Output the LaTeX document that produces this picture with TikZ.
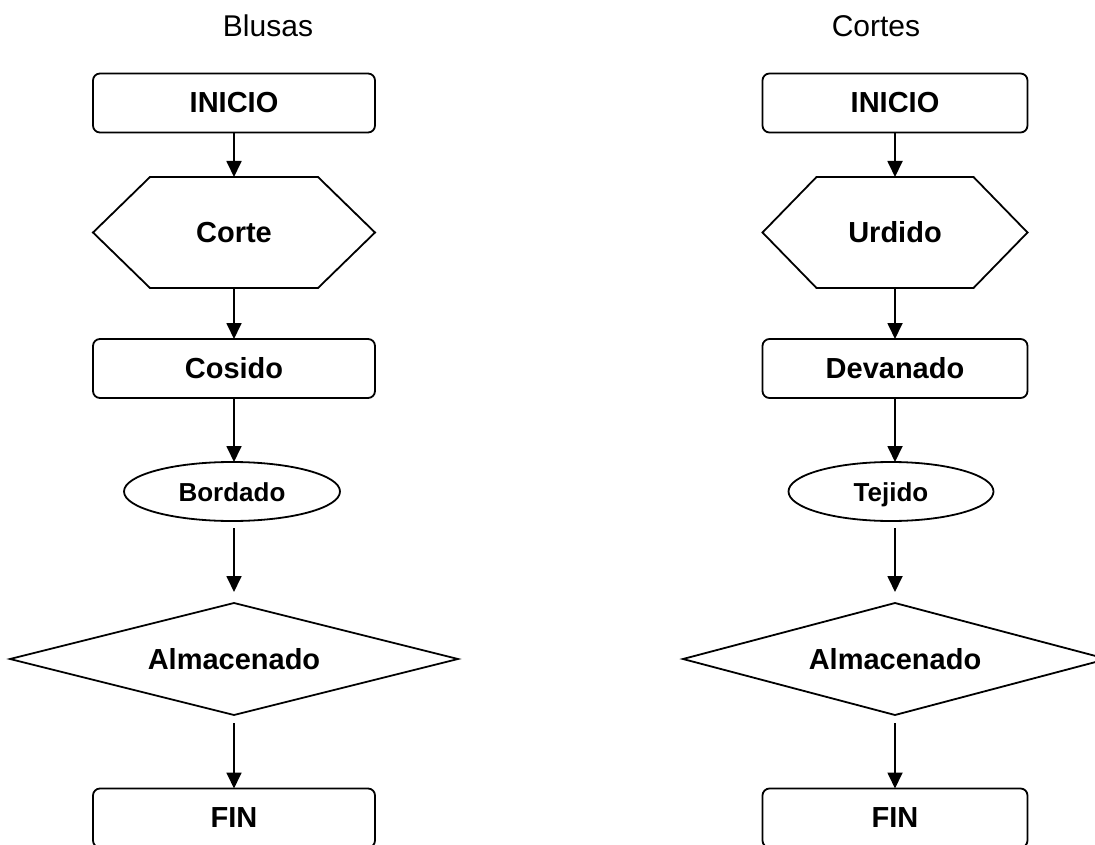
\documentclass[tikz,border=0pt]{standalone}
\usepackage{fontspec}
\setmainfont{Liberation Sans}
\usetikzlibrary{arrows.meta,shapes.geometric}
\begin{document}
\begin{tikzpicture}[x=1pt,y=-1pt,
  every node/.style={inner sep=0pt,outer sep=0pt},
  ln/.style={line width=1.8pt,line join=miter},
  box/.style={ln,draw,rounded corners=7pt,minimum height=59pt,font=\fontsize{29}{32}\selectfont\bfseries},
  hexa/.style={minimum height=111pt,font=\fontsize{29}{32}\selectfont\bfseries},
  oval/.style={ln,draw,ellipse,minimum height=59pt,text height=19pt,text depth=0pt,font=\fontsize{26}{29}\selectfont\bfseries},
  rhomb/.style={minimum height=112pt,font=\fontsize{29}{32}\selectfont\bfseries},
  ttl/.style={anchor=base,font=\fontsize{30}{33}\selectfont},
  arr/.style={ln,-{Triangle[width=15pt,length=16pt]}}]
\useasboundingbox (0,0) rectangle (1095,845);
\clip (0,0) rectangle (1095,845);
% titles
\node[ttl] (t1) at (268,37) {Blusas};
\node[ttl] (t2) at (876,37) {Cortes};
% left column
\node[box,minimum width=282pt] (li) at (234,103) {INICIO};
\node[hexa,minimum width=282pt] (lh) at (234,232.5) {Corte};
\draw[ln] (93,232.5) -- (150,177) -- (318,177) -- (375,232.5) -- (318,288) -- (150,288) -- cycle;
\node[box,minimum width=282pt] (lc) at (234,368.5) {Cosido};
\node[oval,minimum width=216pt] (lb) at (232,491.5) {Bordado};
\node[rhomb,minimum width=448pt] (la) at (234,659) {Almacenado};
\draw[ln] (la.west) -- (la.north) -- (la.east) -- (la.south) -- cycle;
\node[box,minimum width=282pt] (lf) at (234,818) {FIN};
\draw[arr] (li) -- (lh.north);
\draw[arr] (lh.south) -- (lc);
\draw[arr] (lc) -- (lc |- lb.north);
\draw[arr,shorten <=7pt,shorten >=11pt] (lb.south -| la.north) -- (la.north);
\draw[arr,shorten <=8pt] (la.south) -- (lf);
% right column
\node[box,minimum width=265pt] (ri) at (895,103) {INICIO};
\node[hexa,minimum width=265pt] (rh) at (895,232.5) {Urdido};
\draw[ln] (762.5,232.5) -- (816.5,177) -- (973.5,177) -- (1027.5,232.5) -- (973.5,288) -- (816.5,288) -- cycle;
\node[box,minimum width=265pt] (rc) at (895,368.5) {Devanado};
\node[oval,minimum width=205pt] (rb) at (891,491.5) {Tejido};
\node[rhomb,minimum width=424pt] (ra) at (895,659) {Almacenado};
\draw[ln] (ra.west) -- (ra.north) -- (ra.east) -- (ra.south) -- cycle;
\node[box,minimum width=265pt] (rf) at (895,818) {FIN};
\draw[arr] (ri) -- (rh.north);
\draw[arr] (rh.south) -- (rc);
\draw[arr] (rc) -- (rc |- rb.north);
\draw[arr,shorten <=7pt,shorten >=11pt] (rb.south -| ra.north) -- (ra.north);
\draw[arr,shorten <=8pt] (ra.south) -- (rf);
\end{tikzpicture}
\end{document}
